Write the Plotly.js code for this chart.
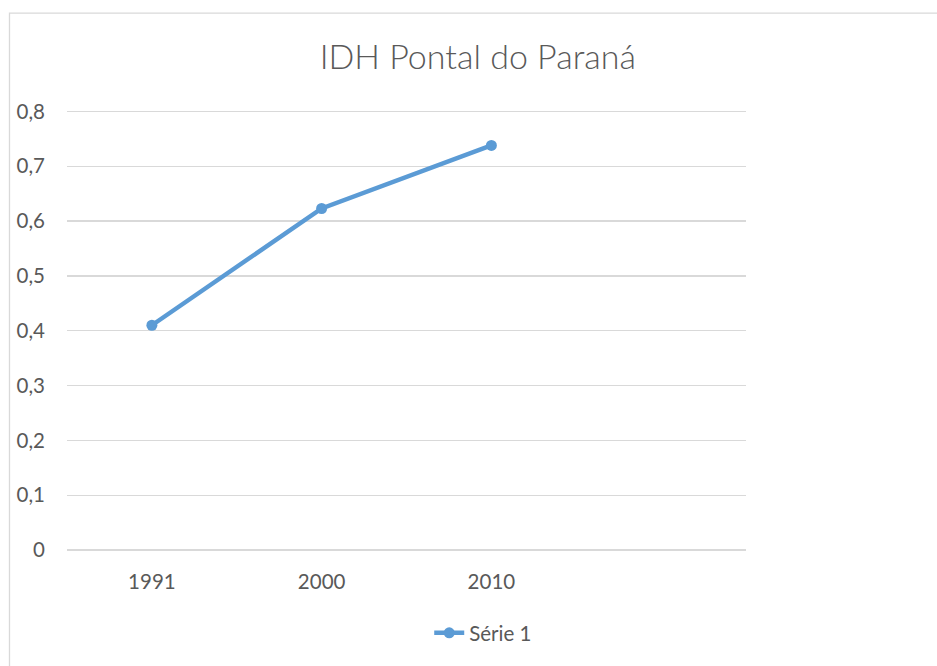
<!DOCTYPE html>
<html>
<head>
<meta charset="utf-8">
<script src="https://cdn.plot.ly/plotly-3.0.1.min.js"></script>
<style>
html,body{margin:0;padding:0;background:#fff;}
#chart{width:937px;height:666px;}
</style>
</head>
<body>
<div id="chart"></div>
<script>
const categories = ["1991", "2000", "2010"];
const values = [0.410, 0.623, 0.738];
const seriesName = "Série 1";
const chartTitle = "IDH Pontal do Paraná";
const yTicks = [0, 0.1, 0.2, 0.3, 0.4, 0.5, 0.6, 0.7, 0.8];

const xIdx = categories.map((c, i) => i);

const trace = {
  x: xIdx,
  y: values,
  type: "scatter",
  mode: "lines+markers",
  name: seriesName,
  line: {color: "#5B9BD5", width: 4.5},
  marker: {color: "#5B9BD5", size: 11},
  cliponaxis: false
};

const layout = {
  width: 937,
  height: 666,
  margin: {l: 67, r: 191, t: 105.5, b: 116},
  paper_bgcolor: "#fff",
  plot_bgcolor: "#fff",
  separators: ",.",
  font: {family: "Lato, 'Open Sans', sans-serif", color: "#595959", size: 20.5},
  title: {
    text: chartTitle,
    font: {family: "Lato, 'Open Sans', sans-serif", size: 34, color: "#595959", weight: 300},
    xref: "paper", x: 0.605, xanchor: "center",
    yref: "container", y: 0.914, yanchor: "middle"
  },
  xaxis: {
    range: [-0.5, 3.5],
    tickvals: xIdx,
    ticktext: categories,
    showgrid: false,
    zeroline: false,
    showline: false,
    ticks: "",
    ticklen: 0,
    ticklabelstandoff: 17,
    tickfont: {size: 20.5, color: "#595959"},
    fixedrange: true
  },
  yaxis: {
    range: [0, 0.81],
    tickvals: yTicks,
    tickformat: ".1~f",
    showgrid: true,
    gridcolor: "#d9d9d9",
    gridwidth: 1.3,
    zeroline: true,
    zerolinecolor: "#d9d9d9",
    zerolinewidth: 1.3,
    showline: false,
    ticks: "",
    ticklabelstandoff: 21,
    tickfont: {size: 20.5, color: "#595959"},
    fixedrange: true
  },
  showlegend: true,
  legend: {
    orientation: "h",
    x: 0.613, xanchor: "center",
    yref: "container",
    y: 1 - 633 / 666, yanchor: "middle",
    font: {size: 20.5, color: "#595959"}
  },
  shapes: [{
    type: "rect",
    xref: "paper", yref: "paper",
    x0: (9.5 - 67) / 679, x1: 2,
    y0: -1, y1: (550 - 12.5) / 444.5,
    line: {color: "#d9d9d9", width: 1.3},
    fillcolor: "rgba(0,0,0,0)",
    layer: "below"
  }]
};

Plotly.newPlot("chart", [trace], layout, {displayModeBar: false, staticPlot: true});
</script>
</body>
</html>
